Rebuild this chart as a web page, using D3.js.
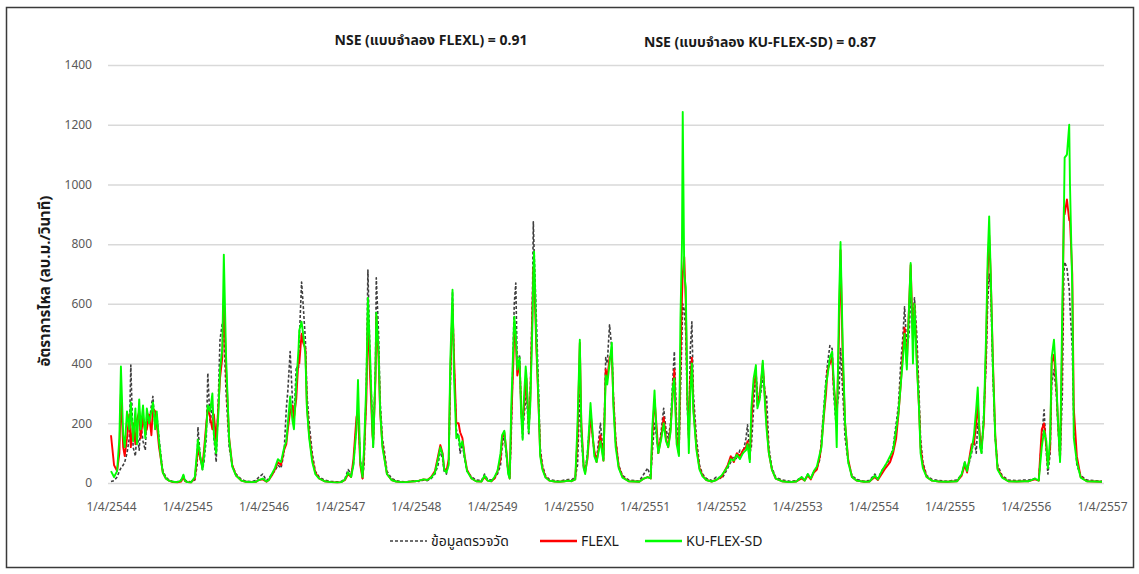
<!DOCTYPE html>
<html lang="th">
<head>
<meta charset="UTF-8">
<title>NSE FLEXL / KU-FLEX-SD</title>
<script src="https://cdn.jsdelivr.net/npm/d3@7"></script>
<style>
  body { margin: 0; background: #fff; }
  text { font-family: Tahoma, "Noto Sans Thai", "Liberation Sans", Arial, sans-serif; }
</style>
</head>
<body>
<div id="chart"></div>
<script>
// water years, 1 April to 1 April (Thai calendar)
const years = d3.range(2544, 2558);
const yTicks = d3.range(0, 1401, 200);

// time of each reading as decimal Thai year
const dates = [
  // 2544
  2544.00, 2544.04, 2544.08, 2544.11, 2544.13, 2544.16, 2544.18, 2544.21, 2544.24, 2544.26, 2544.29,
  2544.32, 2544.34, 2544.37, 2544.39, 2544.42, 2544.45, 2544.47, 2544.50, 2544.53, 2544.55, 2544.58,
  2544.60, 2544.63, 2544.66, 2544.68, 2544.72, 2544.76, 2544.81, 2544.87, 2544.92, 2544.95, 2544.97,
  // 2545
  2545.00, 2545.05, 2545.10, 2545.13, 2545.14, 2545.17, 2545.20, 2545.22, 2545.25, 2545.27, 2545.30,
  2545.33, 2545.35, 2545.38, 2545.41, 2545.43, 2545.46, 2545.48, 2545.51, 2545.55, 2545.59, 2545.64,
  2545.71, 2545.77, 2545.84, 2545.90, 2545.94, 2545.99,
  // 2546
  2546.04, 2546.07, 2546.11, 2546.15, 2546.19, 2546.23, 2546.27, 2546.30, 2546.32, 2546.35, 2546.38,
  2546.40, 2546.43, 2546.46, 2546.47, 2546.50, 2546.52, 2546.55, 2546.57, 2546.60, 2546.64, 2546.68,
  2546.73, 2546.80, 2546.89, 2546.97,
  // 2547
  2547.02, 2547.07, 2547.11, 2547.15, 2547.18, 2547.22, 2547.24, 2547.27, 2547.30, 2547.32, 2547.35,
  2547.37, 2547.40, 2547.43, 2547.44, 2547.47, 2547.48, 2547.51, 2547.53, 2547.56, 2547.59, 2547.62,
  2547.68, 2547.74, 2547.81, 2547.87, 2547.94, 2547.99,
  // 2548
  2548.04, 2548.10, 2548.15, 2548.20, 2548.25, 2548.29, 2548.32, 2548.35, 2548.37, 2548.40, 2548.43,
  2548.45, 2548.48, 2548.50, 2548.53, 2548.56, 2548.58, 2548.61, 2548.64, 2548.67, 2548.73, 2548.79,
  2548.86, 2548.90, 2548.94, 2548.99,
  // 2549
  2549.03, 2549.07, 2549.11, 2549.13, 2549.16, 2549.19, 2549.21, 2549.23, 2549.25, 2549.28, 2549.29,
  2549.31, 2549.33, 2549.36, 2549.38, 2549.40, 2549.41, 2549.44, 2549.45, 2549.48, 2549.50, 2549.53,
  2549.54, 2549.55, 2549.58, 2549.61, 2549.63, 2549.66, 2549.70, 2549.75, 2549.82, 2549.88, 2549.95,
  // 2550
  2550.00, 2550.04, 2550.09, 2550.12, 2550.15, 2550.17, 2550.20, 2550.22, 2550.25, 2550.28, 2550.29,
  2550.32, 2550.34, 2550.37, 2550.40, 2550.42, 2550.45, 2550.46, 2550.49, 2550.51, 2550.54, 2550.57,
  2550.59, 2550.62, 2550.66, 2550.71, 2550.79, 2550.87, 2550.93, 2550.99,
  // 2551
  2551.04, 2551.08, 2551.10, 2551.13, 2551.16, 2551.18, 2551.22, 2551.25, 2551.28, 2551.31, 2551.34,
  2551.37, 2551.39, 2551.42, 2551.45, 2551.47, 2551.49, 2551.50, 2551.52, 2551.54, 2551.56, 2551.58,
  2551.60, 2551.62, 2551.64, 2551.68, 2551.72, 2551.76, 2551.81, 2551.88, 2551.94,
  // 2552
  2552.01, 2552.05, 2552.09, 2552.13, 2552.17, 2552.21, 2552.25, 2552.29, 2552.33, 2552.35, 2552.38,
  2552.40, 2552.43, 2552.46, 2552.48, 2552.51, 2552.54, 2552.55, 2552.58, 2552.60, 2552.63, 2552.67,
  2552.72, 2552.80, 2552.90, 2552.99,
  // 2553
  2553.06, 2553.10, 2553.14, 2553.18, 2553.22, 2553.26, 2553.30, 2553.32, 2553.35, 2553.38, 2553.40,
  2553.43, 2553.46, 2553.48, 2553.51, 2553.52, 2553.55, 2553.57, 2553.60, 2553.63, 2553.67, 2553.72,
  2553.78, 2553.88, 2553.95,
  // 2554
  2554.02, 2554.06, 2554.11, 2554.16, 2554.22, 2554.26, 2554.30, 2554.33, 2554.36, 2554.39, 2554.41,
  2554.44, 2554.47, 2554.49, 2554.52, 2554.54, 2554.57, 2554.60, 2554.62, 2554.65, 2554.70, 2554.77,
  2554.86, 2554.97,
  // 2555
  2555.03, 2555.10, 2555.16, 2555.20, 2555.23, 2555.27, 2555.29, 2555.32, 2555.35, 2555.37, 2555.40,
  2555.42, 2555.45, 2555.48, 2555.50, 2555.52, 2555.54, 2555.57, 2555.60, 2555.63, 2555.69, 2555.77,
  2555.88, 2555.98,
  // 2556
  2556.04, 2556.12, 2556.17, 2556.21, 2556.24, 2556.27, 2556.29, 2556.32, 2556.34, 2556.37, 2556.40,
  2556.42, 2556.45, 2556.48, 2556.50, 2556.51, 2556.54, 2556.57, 2556.58, 2556.61, 2556.63, 2556.67,
  2556.72, 2556.80, 2556.90, 2557.00
];

// ข้อมูลตรวจวัด (observed), m3/s
const observed = [
  5, 8, 20, 40, 50, 60, 70, 100, 150, 395, 120, 90, 170, 110, 200, 140, 110, 230, 200, 260, 290, 180, 230, 150, 80, 40, 20, 10, 5, 4, 10, 25, 10,
  5, 4, 10, 60, 188, 90, 45, 70, 150, 368, 200, 260, 150, 70, 300, 480, 535, 500, 300, 120, 60, 30, 12, 6, 5, 8, 20, 30,
  8, 15, 30, 40, 60, 50, 100, 250, 310, 440, 280, 200, 390, 380, 480, 673, 600, 480, 300, 200, 100, 40, 20, 10, 5, 4,
  5, 15, 45, 30, 60, 200, 250, 80, 15, 60, 330, 713, 400, 200, 120, 400, 687, 500, 280, 150, 100, 40, 15, 8, 5, 4, 6, 8,
  5, 10, 8, 15, 30, 60, 110, 80, 40, 30, 70, 300, 640, 400, 180, 150, 100, 130, 80, 40, 20, 10, 8, 30, 12, 10,
  15, 30, 60, 120, 160, 80, 40, 20, 150, 500, 600, 670, 380, 430, 250, 150, 200, 280, 300, 160, 300, 650, 875, 780, 550, 300, 120, 60, 25, 12, 8, 6, 10,
  12, 10, 20, 60, 300, 150, 50, 40, 100, 200, 230, 150, 100, 80, 150, 200, 120, 80, 420, 400, 530, 450, 300, 150, 60, 25, 10, 8, 6, 30,
  50, 20, 100, 200, 150, 100, 180, 250, 180, 150, 200, 350, 440, 200, 90, 300, 500, 600, 580, 500, 250, 150, 450, 540, 300, 150, 60, 30, 15, 8, 20,
  15, 30, 50, 70, 90, 80, 110, 100, 150, 195, 100, 120, 250, 380, 300, 280, 330, 380, 300, 290, 120, 50, 20, 10, 6, 8,
  20, 10, 30, 15, 40, 50, 80, 150, 250, 350, 400, 460, 450, 300, 200, 250, 300, 450, 300, 150, 70, 25, 12, 6, 8,
  30, 15, 40, 60, 80, 120, 200, 260, 400, 500, 590, 450, 500, 620, 550, 620, 500, 300, 150, 70, 25, 12, 8, 6,
  8, 10, 30, 70, 40, 80, 100, 150, 100, 200, 150, 100, 240, 400, 600, 700, 650, 350, 150, 60, 25, 10, 8, 10,
  10, 15, 10, 150, 245, 100, 30, 100, 330, 380, 300, 200, 70, 300, 700, 740, 720, 650, 590, 450, 200, 60, 25, 10, 8, 6
];

// แบบจำลอง FLEXL
const flexl = [
  160, 60, 40, 100, 300, 120, 90, 150, 230, 120, 200, 130, 210, 240, 150, 220, 170, 180, 230, 160, 250, 240, 200, 120, 70, 35, 15, 8, 3, 2, 5, 20, 6,
  3, 2, 15, 90, 120, 80, 60, 110, 200, 250, 220, 180, 230, 140, 260, 350, 420, 620, 380, 150, 60, 25, 8, 4, 3, 4, 10, 12,
  4, 10, 25, 45, 70, 60, 110, 130, 180, 240, 260, 220, 280, 420, 400, 500, 470, 450, 260, 160, 80, 35, 15, 6, 3, 2,
  3, 10, 30, 20, 80, 220, 240, 60, 15, 100, 280, 560, 350, 160, 140, 350, 560, 420, 240, 130, 80, 30, 10, 5, 3, 3, 5, 6,
  8, 12, 10, 20, 40, 90, 127, 100, 50, 40, 80, 350, 600, 420, 200, 200, 170, 150, 90, 45, 15, 6, 5, 20, 8, 6,
  15, 40, 80, 150, 170, 100, 40, 15, 200, 420, 500, 480, 360, 400, 260, 180, 230, 330, 350, 190, 280, 600, 720, 700, 450, 250, 100, 50, 20, 8, 5, 4, 6,
  8, 6, 12, 150, 470, 200, 60, 35, 80, 180, 240, 150, 110, 70, 120, 160, 100, 75, 380, 350, 420, 430, 280, 140, 55, 20, 6, 5, 4, 15,
  20, 15, 150, 280, 180, 100, 160, 220, 150, 120, 180, 300, 380, 150, 100, 400, 620, 700, 757, 600, 300, 150, 350, 420, 250, 120, 50, 25, 10, 5, 10,
  20, 40, 60, 90, 70, 100, 90, 110, 120, 140, 80, 200, 330, 360, 260, 300, 370, 400, 280, 200, 100, 45, 15, 6, 3, 5,
  15, 8, 25, 12, 35, 45, 90, 130, 220, 300, 380, 400, 420, 330, 250, 200, 500, 780, 400, 200, 80, 20, 8, 4, 5,
  20, 10, 30, 50, 70, 100, 150, 230, 330, 450, 520, 400, 600, 730, 480, 600, 420, 250, 120, 60, 20, 8, 5, 4,
  5, 6, 25, 60, 35, 100, 130, 130, 200, 260, 150, 120, 200, 450, 700, 830, 700, 400, 160, 50, 20, 6, 5, 6,
  6, 12, 8, 180, 200, 120, 60, 120, 400, 430, 330, 220, 80, 500, 925, 900, 950, 880, 880, 700, 250, 90, 20, 6, 5, 4
];

// แบบจำลอง KU-FLEX-SD
const kuFlexSd = [
  40, 20, 40, 150, 390, 160, 120, 240, 180, 270, 140, 250, 130, 280, 180, 260, 150, 250, 200, 240, 270, 180, 240, 140, 70, 35, 15, 8, 4, 3, 8, 28, 8,
  3, 2, 20, 110, 145, 90, 45, 90, 180, 260, 240, 300, 160, 100, 240, 380, 450, 765, 420, 145, 55, 25, 8, 4, 3, 4, 10, 15,
  5, 10, 30, 50, 80, 70, 117, 140, 200, 290, 210, 180, 330, 450, 512, 540, 500, 430, 250, 150, 70, 30, 15, 6, 3, 2,
  3, 12, 35, 20, 60, 180, 345, 70, 20, 120, 340, 620, 420, 170, 120, 380, 570, 450, 250, 120, 75, 30, 10, 5, 3, 3, 5, 6,
  8, 12, 10, 18, 35, 80, 120, 95, 45, 35, 60, 400, 647, 350, 150, 160, 120, 140, 85, 40, 15, 6, 5, 25, 8, 6,
  20, 40, 100, 160, 175, 90, 30, 15, 250, 480, 557, 500, 380, 420, 230, 145, 250, 390, 360, 170, 260, 550, 700, 775, 480, 260, 90, 45, 18, 8, 5, 4, 6,
  8, 6, 12, 200, 480, 180, 50, 30, 90, 220, 268, 160, 90, 70, 110, 140, 90, 75, 360, 330, 400, 470, 260, 120, 50, 18, 6, 5, 4, 15,
  20, 15, 180, 310, 150, 100, 150, 200, 140, 120, 170, 320, 350, 130, 90, 550, 800, 1243, 700, 655, 300, 100, 300, 400, 240, 110, 45, 22, 10, 5, 10,
  25, 40, 55, 80, 75, 95, 80, 100, 110, 130, 70, 250, 350, 395, 250, 280, 380, 410, 260, 180, 100, 45, 15, 6, 3, 5,
  20, 8, 30, 15, 40, 55, 100, 120, 230, 330, 360, 420, 440, 350, 200, 120, 600, 807, 450, 200, 70, 20, 8, 4, 5,
  25, 12, 40, 60, 90, 110, 180, 235, 330, 420, 500, 380, 600, 737, 400, 600, 400, 250, 100, 50, 20, 8, 5, 4,
  5, 6, 30, 70, 40, 90, 110, 160, 250, 320, 120, 100, 220, 500, 750, 893, 700, 380, 150, 45, 18, 6, 5, 6,
  6, 15, 8, 120, 175, 140, 50, 150, 420, 480, 350, 220, 70, 600, 900, 1090, 1100, 1200, 1000, 650, 150, 70, 18, 6, 5, 4
];

const nseLabels = ["NSE (แบบจำลอง FLEXL) = 0.91", "NSE (แบบจำลอง KU-FLEX-SD) = 0.87"];

const series = [
  { name: "ข้อมูลตรวจวัด", values: observed, color: "#3f3f3f", dash: "3,2", w: 1.6 },
  { name: "FLEXL", values: flexl, color: "#ff0000", dash: null, w: 1.9 },
  { name: "KU-FLEX-SD", values: kuFlexSd, color: "#00ff00", dash: null, w: 1.9 }
];

const width = 1139, height = 574;

const svg = d3.select("#chart").append("svg")
    .attr("width", width)
    .attr("height", height)
    .style("display", "block");

svg.append("rect")
    .attr("width", width).attr("height", height)
    .attr("fill", "#fff");

// frame round the whole chart
svg.append("rect")
    .attr("x", 6.5).attr("y", 7.5)
    .attr("width", 1127).attr("height", 560)
    .attr("fill", "none")
    .attr("stroke", "#3a3a3a")
    .attr("stroke-width", 1.5);

const x = d3.scaleLinear().domain([2544, 2557]).range([111, 1102]);
const y = d3.scaleLinear().domain([0, 1400]).range([483, 65]);

// y axis + gridlines
const yAxis = svg.append("g")
    .attr("transform", "translate(108,0)")
    .call(d3.axisLeft(y).tickValues(yTicks).tickSize(-996).tickPadding(16).tickFormat(d3.format("d")));
yAxis.select(".domain").remove();
yAxis.selectAll(".tick line").attr("stroke", "#d9d9d9").attr("stroke-width", 1.5);
yAxis.selectAll(".tick text").attr("fill", "#595959").style("font-size", "12px");

// x axis
const xAxis = svg.append("g")
    .attr("transform", "translate(0,483)")
    .call(d3.axisBottom(x).tickValues(years).tickSize(0).tickPadding(19).tickFormat(d => "1/4/" + d));
xAxis.select(".domain").remove();
xAxis.selectAll(".tick text").attr("fill", "#595959").style("font-size", "12px");

// lines
const line = d3.line()
    .x((d, i) => x(dates[i]))
    .y(d => y(d));

series.forEach(s => {
    svg.append("path")
        .datum(s.values)
        .attr("fill", "none")
        .attr("stroke", s.color)
        .attr("stroke-width", s.w)
        .attr("stroke-linejoin", "round")
        .attr("stroke-dasharray", s.dash)
        .attr("d", line);
});

// NSE labels
svg.append("text")
    .attr("x", 431).attr("y", 45)
    .attr("text-anchor", "middle")
    .style("font-size", "14px").style("font-weight", "bold")
    .attr("fill", "#1a1a1a")
    .text(nseLabels[0]);
svg.append("text")
    .attr("x", 760).attr("y", 47)
    .attr("text-anchor", "middle")
    .style("font-size", "14px").style("font-weight", "bold")
    .attr("fill", "#1a1a1a")
    .text(nseLabels[1]);

// y title
svg.append("text")
    .attr("transform", "translate(50,281) rotate(-90)")
    .attr("text-anchor", "middle")
    .style("font-size", "15px").style("font-weight", "bold")
    .attr("fill", "#1a1a1a")
    .text("อัตราการไหล (ลบ.ม./วินาที)");

// legend
const legendX = [390, 540, 645];
const legend = svg.append("g").attr("transform", "translate(0,541)");
series.forEach((s, i) => {
    legend.append("line")
        .attr("x1", legendX[i]).attr("x2", legendX[i] + 37)
        .attr("y1", 0).attr("y2", 0)
        .attr("stroke", s.color)
        .attr("stroke-width", i === 0 ? 1.6 : 2.5)
        .attr("stroke-dasharray", s.dash);
    legend.append("text")
        .attr("x", legendX[i] + 41).attr("y", 0)
        .attr("dy", "0.35em")
        .style("font-size", "14px")
        .attr("fill", "#1a1a1a")
        .text(s.name);
});
</script>
</body>
</html>
